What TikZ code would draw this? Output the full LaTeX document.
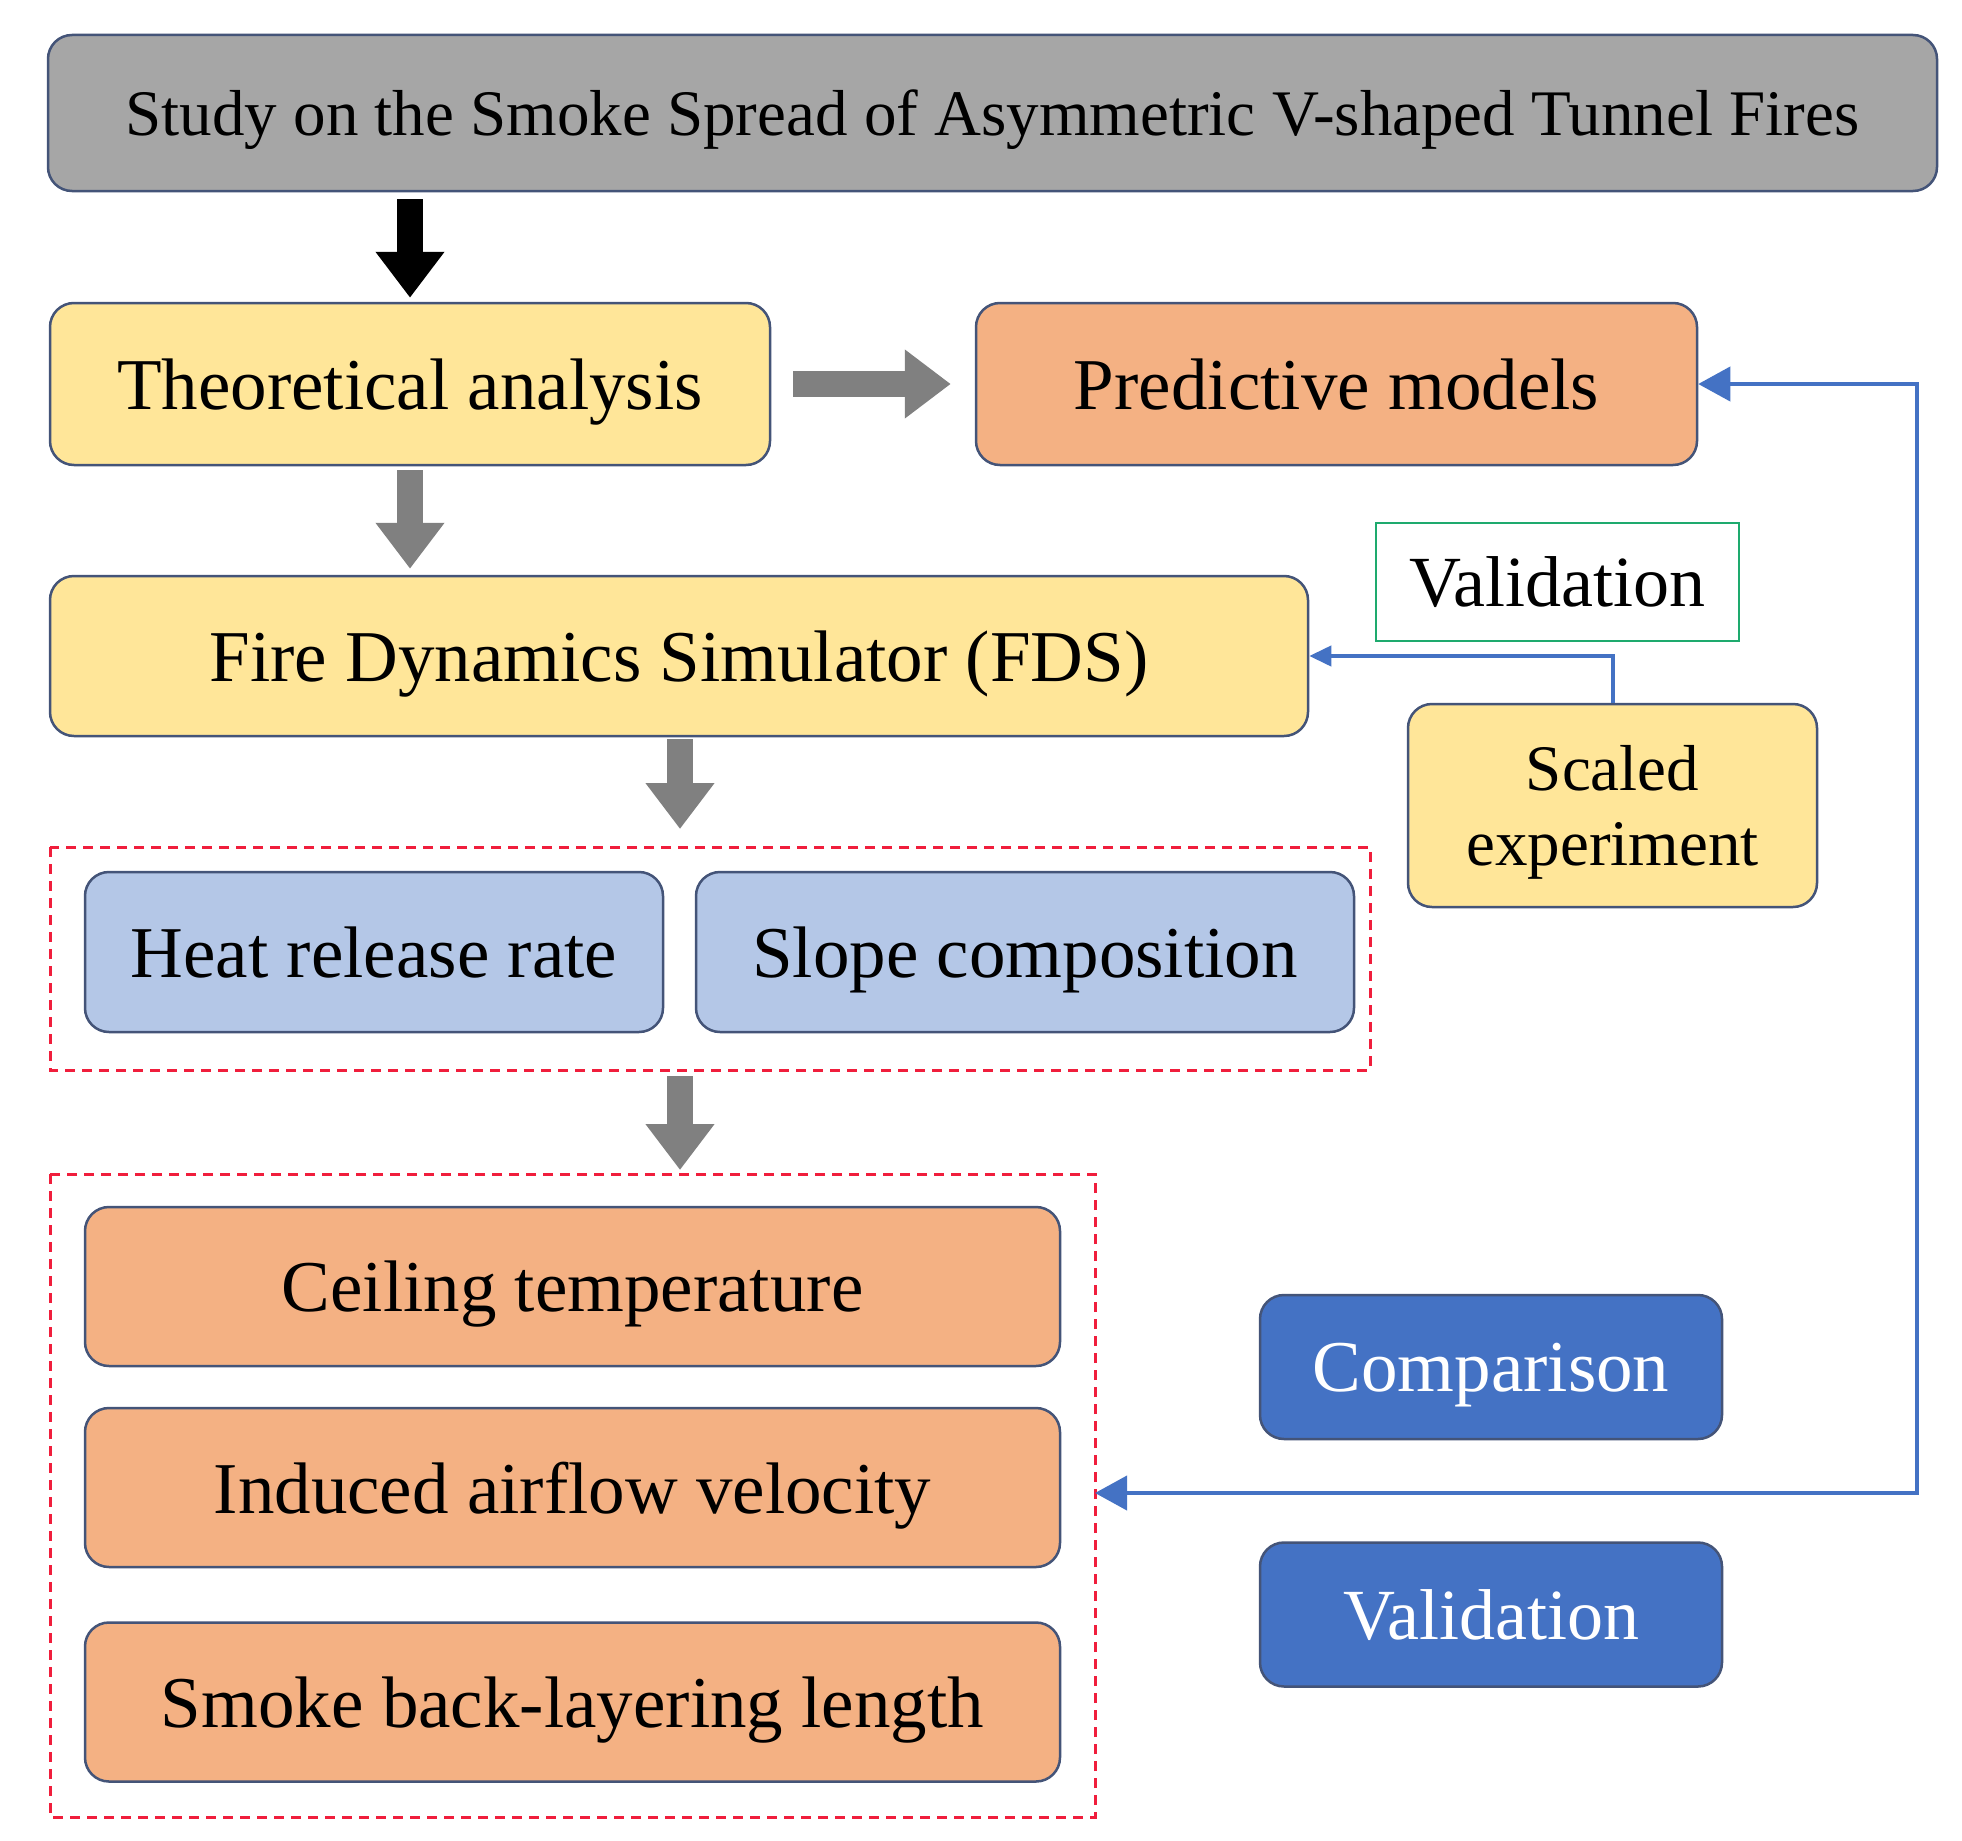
\documentclass[tikz,border=0pt]{standalone}
\usepackage{fontspec}
\setmainfont{Liberation Serif}
\usetikzlibrary{arrows.meta,calc}
\definecolor{bordc}{RGB}{68,84,120}
\definecolor{titlegray}{RGB}{166,166,166}
\definecolor{yel}{RGB}{255,230,153}
\definecolor{ora}{RGB}{244,177,131}
\definecolor{lblue}{RGB}{180,199,231}
\definecolor{dblue}{RGB}{68,114,196}
\definecolor{redd}{RGB}{240,30,60}
\definecolor{greenb}{RGB}{30,170,110}
\definecolor{arrgray}{RGB}{128,128,128}
\tikzset{
  boxb/.style={draw=bordc, line width=2.5pt, rounded corners=24pt, align=center, inner sep=0pt, text depth=0pt},
  grpbox/.style={draw=redd, line width=3pt, dash pattern=on 10pt off 7pt},
  blockarr/.style={line width=26pt, -{Triangle[length=46pt,width=66pt]}},
  conn/.style={draw=dblue, line width=4pt},
  bigtxt/.style={font=\fontsize{73}{76}\selectfont},
}
\begin{document}
\begin{tikzpicture}[x=1pt,y=-1pt]
\useasboundingbox (0,0) rectangle (1962,1841);
\fill[white] (0,0) rectangle (1962,1841);
% nodes
\node[boxb, fill=titlegray, minimum width=1889pt, minimum height=156pt, font=\fontsize{65}{68}\selectfont] (title) at (992.5,113) {Study on the Smoke Spread of Asymmetric V-shaped Tunnel Fires};
\node[boxb, fill=yel, minimum width=720pt, minimum height=162pt, bigtxt] (theo) at (410,384) {Theoretical analysis};
\node[boxb, fill=ora, minimum width=721pt, minimum height=162pt, bigtxt] (pred) at (1336.5,384) {Predictive models};
\node[boxb, fill=yel, minimum width=1258pt, minimum height=160pt, bigtxt] (fds) at (679,656) {Fire Dynamics Simulator (FDS)};
\node[draw=greenb, line width=2.5pt, minimum width=363pt, minimum height=118pt, inner sep=0pt, text depth=0pt, font=\fontsize{72}{74}\selectfont] (valg) at (1557.5,582) {Validation};
\node[boxb, fill=yel, minimum width=409pt, minimum height=203pt, font=\fontsize{65}{75}\selectfont] (scaled) at (1612.5,805.5) {Scaled\\experiment};
\draw[grpbox] (50,847) rectangle (1370,1070);
\coordinate (box1n) at (680,847);
\coordinate (box1s) at (680,1070);
\node[boxb, fill=lblue, minimum width=578pt, minimum height=160pt, bigtxt] (heat) at (374,952) {Heat release rate};
\node[boxb, fill=lblue, minimum width=658pt, minimum height=160pt, bigtxt] (slope) at (1025,952) {Slope composition};
\draw[grpbox] (50,1174) rectangle (1095,1817);
\coordinate (box2n) at (680,1174);
\coordinate (box2e) at (1095,1493);
\node[boxb, fill=ora, minimum width=975pt, minimum height=159pt, bigtxt] (ceil) at (572.5,1286.5) {Ceiling temperature};
\node[boxb, fill=ora, minimum width=975pt, minimum height=159pt, bigtxt] (ind) at (572.5,1487.5) {Induced airflow velocity};
\node[boxb, fill=ora, minimum width=975pt, minimum height=159pt, bigtxt] (smoke) at (572.5,1702) {Smoke back-layering length};
\node[boxb, fill=dblue, text=white, minimum width=462pt, minimum height=144pt, bigtxt] (comp) at (1491,1367) {Comparison};
\node[boxb, fill=dblue, text=white, minimum width=462pt, minimum height=144pt, font=\fontsize{72}{74}\selectfont] (valb) at (1491,1614.5) {Validation};
% block arrows
\draw[blockarr, draw=black] ($(title.south -| theo.north)+(0,7)$) -- ($(theo.north)+(0,-4)$);
\draw[blockarr, draw=arrgray] ($(theo.south)+(0,4)$) -- ($(theo.south |- fds.north)+(0,-6)$);
\draw[blockarr, draw=arrgray] ($(theo.east)+(22,0)$) -- ($(pred.west)+(-24,0)$);
\draw[blockarr, draw=arrgray] ($(fds.south -| box1n)+(0,2)$) -- ($(box1n)+(0,-18)$);
\draw[blockarr, draw=arrgray] ($(box1s)+(0,6)$) -- ($(box2n)+(0,-4)$);
% connectors
\coordinate (rc) at (1917,1493);
\draw[conn, -{Triangle[length=22pt,width=20pt]}] (scaled.north) |- (fds.east);
\draw[conn, {Triangle[length=32pt,width=34pt]}-{Triangle[length=32pt,width=34pt]}] (pred.east) -| (rc) -- (box2e);
\end{tikzpicture}
\end{document}
